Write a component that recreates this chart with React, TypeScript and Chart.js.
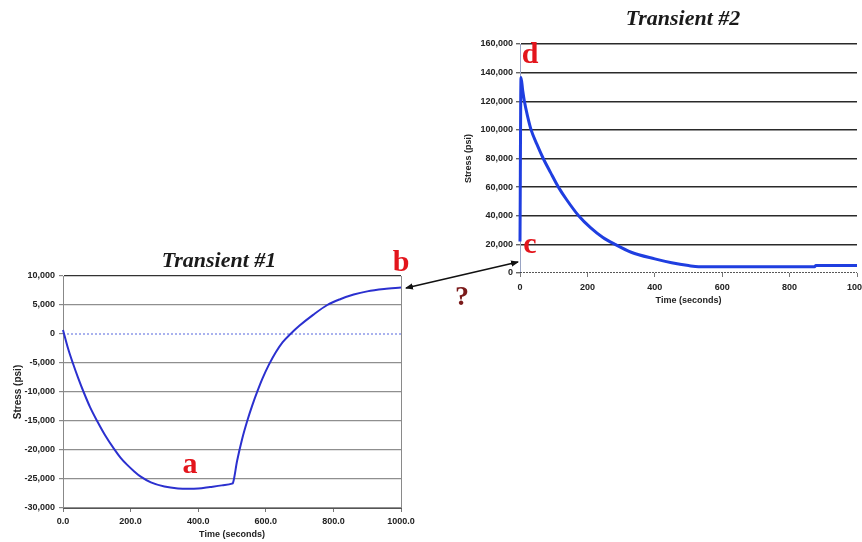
import React, { useEffect, useRef } from "react";
import { Chart, registerables } from "chart.js";

Chart.register(...registerables);

// ---- Transient #1 data ----
const t1Time = [0, 15, 29, 45, 61, 80, 101, 125, 151, 170, 190, 210, 230, 260, 300, 340, 370, 400, 435, 470, 500, 503, 515, 530, 545, 560, 575, 590, 610, 630, 650, 673, 700, 740, 782, 820, 860, 900, 950, 1000];
const t1Stress = [700, -2500, -5000, -7600, -10000, -12600, -15000, -17500, -19800, -21300, -22570, -23650, -24600, -25570, -26290, -26630, -26700, -26650, -26380, -26100, -25800, -25650, -21900, -18100, -15000, -12300, -9900, -7700, -5200, -3100, -1400, 0, 1450, 3300, 5000, 6000, 6800, 7350, 7750, 8000];
const t1XTicks = [0, 200, 400, 600, 800, 1000];
const t1XTickLabels = ["0.0", "200.0", "400.0", "600.0", "800.0", "1000.0"];
const t1YTicks = [-30000, -25000, -20000, -15000, -10000, -5000, 0, 5000, 10000];

// ---- Transient #2 data ----
const t2Time = [0, 3, 8, 13, 22, 33, 50, 69, 90, 114, 139, 174, 210, 245, 282, 330, 400, 450, 500, 530, 700, 874, 878, 1000];
const t2Stress = [22000, 136600, 127500, 120000, 110000, 100000, 90000, 80000, 70500, 60000, 51000, 40000, 31500, 25000, 20000, 14500, 9900, 7200, 5200, 4400, 4400, 4400, 5300, 5300];
const t2XTicks = [0, 200, 400, 600, 800, 1000];
const t2XTickLabels = ["0", "200", "400", "600", "800", "1000"];
const t2YTicks = [0, 20000, 40000, 60000, 80000, 100000, 120000, 140000, 160000];

// zero reference lines
const zeroTime = [0, 1000];
const zeroStress = [0, 0];

const fmt = (v: number) => Number(v).toLocaleString("en-US");
const pts = (xs: number[], ys: number[]) => xs.map((x, i) => ({ x, y: ys[i] }));

const tickFont = { family: "'Liberation Sans', Arial, sans-serif", size: 9, weight: "bold" as const };

const rightBorder = {
  id: "rightBorder",
  afterDraw(chart: any) {
    const { ctx, chartArea } = chart;
    ctx.save();
    ctx.strokeStyle = "#8a8a8a";
    ctx.lineWidth = 1;
    ctx.beginPath();
    ctx.moveTo(Math.round(chartArea.right) + 0.5, chartArea.top);
    ctx.lineTo(Math.round(chartArea.right) + 0.5, chartArea.bottom);
    ctx.stroke();
    ctx.restore();
  },
};

export default function App() {
  const c1 = useRef<HTMLCanvasElement>(null);
  const c2 = useRef<HTMLCanvasElement>(null);

  useEffect(() => {
    const chart1 = new Chart(c1.current as HTMLCanvasElement, {
      type: "line",
      data: {
        datasets: [
          {
            data: pts(t1Time, t1Stress),
            borderColor: "#2b30cf",
            borderWidth: 2,
            pointRadius: 0,
            cubicInterpolationMode: "monotone",
            fill: false,
            clip: false,
          },
          {
            data: pts(zeroTime, zeroStress),
            borderColor: "#5566dd",
            borderWidth: 1,
            borderDash: [2, 2],
            pointRadius: 0,
            fill: false,
          },
        ],
      },
      options: {
        animation: false,
        responsive: false,
        layout: { padding: { top: 36, right: 29, left: 0, bottom: 0 } },
        plugins: { legend: { display: false }, tooltip: { enabled: false }, title: { display: false } },
        scales: {
          x: {
            type: "linear",
            min: 0,
            max: 1000,
            afterBuildTicks: (s: any) => {
              s.ticks = t1XTicks.map((v) => ({ value: v }));
            },
            ticks: {
              callback: (v: any) => t1XTickLabels[t1XTicks.indexOf(Number(v))],
              font: tickFont,
              color: "#222",
              padding: 4,
              maxRotation: 0,
              autoSkip: false,
            },
            grid: { drawOnChartArea: false, tickLength: 4, color: "#777" },
            border: { color: "#555", width: 1 },
            title: {
              display: true,
              text: "Time (seconds)",
              font: tickFont,
              color: "#222",
              padding: { top: 0, bottom: 2 },
            },
            afterFit: (s: any) => {
              s.height = 34;
            },
          },
          y: {
            min: -30000,
            max: 10000,
            afterBuildTicks: (s: any) => {
              s.ticks = t1YTicks.map((v) => ({ value: v }));
            },
            ticks: { callback: (v: any) => fmt(v), font: tickFont, color: "#222", padding: 4, autoSkip: false },
            grid: {
              tickLength: 4,
              tickColor: "#888",
              lineWidth: 1.2,
              color: (ctx: any) =>
                ctx.tick && ctx.tick.value === 0
                  ? "rgba(0,0,0,0)"
                  : ctx.tick && ctx.tick.value === 10000
                  ? "#333"
                  : "#8f8f8f",
            },
            border: { color: "#888", width: 1 },
            title: {
              display: true,
              text: "Stress (psi)",
              font: { ...tickFont, size: 10 },
              color: "#222",
              padding: { top: 12, bottom: 0 },
            },
            afterFit: (s: any) => {
              s.width = 63;
            },
          },
        },
      },
      plugins: [rightBorder],
    } as any);

    const chart2 = new Chart(c2.current as HTMLCanvasElement, {
      type: "line",
      data: {
        datasets: [
          {
            data: pts(t2Time, t2Stress),
            borderColor: "#1f3ee0",
            borderWidth: 3,
            pointRadius: 0,
            cubicInterpolationMode: "monotone",
            fill: false,
            clip: false,
          },
          {
            data: pts(zeroTime, zeroStress),
            borderColor: "#222",
            borderWidth: 1.5,
            borderDash: [2, 1],
            pointRadius: 0,
            fill: false,
          },
        ],
      },
      options: {
        animation: false,
        responsive: false,
        layout: { padding: { top: 44, right: 23, left: 0, bottom: 0 } },
        plugins: { legend: { display: false }, tooltip: { enabled: false }, title: { display: false } },
        scales: {
          x: {
            type: "linear",
            min: 0,
            max: 1000,
            afterBuildTicks: (s: any) => {
              s.ticks = t2XTicks.map((v) => ({ value: v }));
            },
            ticks: {
              callback: (v: any) => t2XTickLabels[t2XTicks.indexOf(Number(v))],
              font: tickFont,
              color: "#222",
              padding: 5,
              maxRotation: 0,
              autoSkip: false,
            },
            grid: { drawOnChartArea: false, tickLength: 4, color: "#777" },
            border: { display: false },
            title: {
              display: true,
              text: "Time (seconds)",
              font: tickFont,
              color: "#222",
              padding: { top: 0, bottom: 4 },
            },
            afterFit: (s: any) => {
              s.height = 37;
            },
          },
          y: {
            min: 0,
            max: 160000,
            afterBuildTicks: (s: any) => {
              s.ticks = t2YTicks.map((v) => ({ value: v }));
            },
            ticks: { callback: (v: any) => fmt(v), font: tickFont, color: "#222", padding: 3, autoSkip: false },
            grid: {
              tickLength: 4,
              tickColor: "#666",
              lineWidth: 1.4,
              color: (ctx: any) => (ctx.tick && ctx.tick.value === 0 ? "rgba(0,0,0,0)" : "#2a2a2a"),
            },
            border: { color: "#9aa4c4", width: 1 },
            title: {
              display: true,
              text: "Stress (psi)",
              font: tickFont,
              color: "#222",
              padding: { top: 3, bottom: 0 },
            },
            afterFit: (s: any) => {
              s.width = 60;
            },
          },
        },
      },
    } as any);

    return () => {
      chart1.destroy();
      chart2.destroy();
    };
  }, []);

  const serif = "'Liberation Serif', 'Times New Roman', serif";

  return (
    <div
      style={{
        position: "fixed",
        left: 0,
        top: 0,
        width: 862,
        height: 542,
        overflow: "hidden",
        background: "#fff",
      }}
    >
      <canvas ref={c1} width={430} height={302} style={{ position: "absolute", left: 0, top: 240, display: "block" }} />
      <canvas ref={c2} width={420} height={310} style={{ position: "absolute", left: 460, top: 0, display: "block" }} />
      <svg width={862} height={542} style={{ position: "absolute", left: 0, top: 0, pointerEvents: "none" }}>
        <defs>
          <marker id="ah" markerWidth="8" markerHeight="8" refX="7" refY="4" orient="auto-start-reverse" markerUnits="userSpaceOnUse">
            <path d="M0,0.8 L8,4 L0,7.2 Z" fill="#111" />
          </marker>
        </defs>
        <text x={219} y={267} textAnchor="middle" fontFamily={serif} fontWeight="bold" fontStyle="italic" fontSize={22} fill="#1a1a1a">
          Transient #1
        </text>
        <text x={683} y={25} textAnchor="middle" fontFamily={serif} fontWeight="bold" fontStyle="italic" fontSize={22} fill="#1a1a1a">
          Transient #2
        </text>
        <text x={190} y={473} textAnchor="middle" fontFamily={serif} fontWeight="bold" fontSize={30} fill="#e3151c">a</text>
        <text x={401} y={271} textAnchor="middle" fontFamily={serif} fontWeight="bold" fontSize={30} fill="#e3151c">b</text>
        <text x={530} y={253} textAnchor="middle" fontFamily={serif} fontWeight="bold" fontSize={30} fill="#e3151c">c</text>
        <text x={530} y={63} textAnchor="middle" fontFamily={serif} fontWeight="bold" fontSize={30} fill="#e3151c">d</text>
        <text x={462} y={305} textAnchor="middle" fontFamily={serif} fontWeight="bold" fontSize={28} fill="#7a1a1a">?</text>
        <line x1={406} y1={288} x2={518} y2={262} stroke="#111" strokeWidth={1.6} markerStart="url(#ah)" markerEnd="url(#ah)" />
      </svg>
    </div>
  );
}
